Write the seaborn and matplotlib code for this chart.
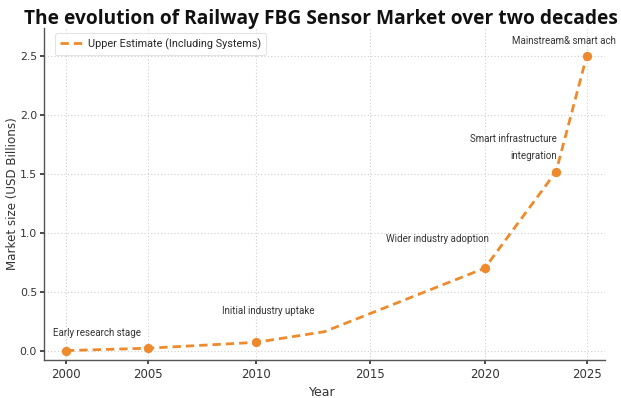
import numpy as np
import pandas as pd
import matplotlib
matplotlib.use("Agg")
import matplotlib.pyplot as plt
import seaborn as sns

# Market trajectory (upper estimate, including systems)
years = [2000, 2005, 2010, 2013, 2020, 2023.5, 2025]
market_usd_bn = [0.0, 0.02, 0.07, 0.16, 0.70, 1.52, 2.50]

# Milestones highlighted with markers and captions
milestone_years = [2000, 2005, 2010, 2020, 2023.5, 2025]
milestone_values = [0.0, 0.02, 0.07, 0.70, 1.52, 2.50]
stage_labels = ["Early research stage", "Initial industry uptake",
                "Wider industry adoption", "Smart infrastructure\nintegration",
                "Mainstream& smart ach"]
stage_years = [2000, 2010, 2020, 2023.5, 2025]
stage_values = [0.0, 0.07, 0.70, 1.52, 2.50]

x_ticks = [2000, 2005, 2010, 2015, 2020, 2025]
y_ticks = [0.0, 0.5, 1.0, 1.5, 2.0, 2.5]

series_name = "Upper Estimate (Including Systems)"
orange = "#EF8A2C"

# piecewise axis spacing for the year axis
_knots_year = np.array([1990, 2000, 2005, 2010, 2015, 2020, 2025, 2035], float)
_knots_pos = np.array([-98, 66, 148, 256, 370, 485, 587, 791], float)


def _fwd(v):
    return np.interp(v, _knots_year, _knots_pos)


def _inv(p):
    return np.interp(p, _knots_pos, _knots_year)


sns.set_theme(style="whitegrid")
plt.rcParams["font.family"] = ["DejaVu Sans"]

df = pd.DataFrame({"Year": years, "Market": market_usd_bn})

fig = plt.figure(figsize=(6.21, 3.98), dpi=100)
ax = fig.add_axes([44 / 621, 1 - 360 / 398, (605 - 44) / 621, (360 - 28) / 398])
ax.set_xscale("function", functions=(_fwd, _inv))

sns.lineplot(data=df, x="Year", y="Market", ax=ax, color=orange,
             linestyle=(0, (3, 1.8)), linewidth=2.0, label=series_name)
sns.scatterplot(x=milestone_years, y=milestone_values, ax=ax, color=orange,
                s=45, edgecolor=orange, linewidth=0, zorder=3)

ax.set_xlim(1998.66, 2025.9)
ax.set_ylim(-0.08, 2.74)
ax.set_xticks(x_ticks)
ax.set_xticklabels([str(t) for t in x_ticks])
ax.xaxis.set_minor_locator(matplotlib.ticker.NullLocator())
ax.set_yticks(y_ticks)
ax.set_yticklabels([f"{t:.1f}" for t in y_ticks])
ax.tick_params(axis="x", labelsize=8.5, colors="#333333", length=3,
               bottom=True, pad=2.5)
ax.tick_params(axis="y", labelsize=7.8, colors="#333333", length=3,
               left=True, pad=2)

ax.set_facecolor("white")
ax.grid(True, linestyle=(0, (1, 2)), color="#d0d0d0", linewidth=0.8)
for side in ("top", "right"):
    ax.spines[side].set_visible(False)
for side in ("left", "bottom"):
    ax.spines[side].set_color("#555555")
    ax.spines[side].set_linewidth(1.0)

ax.set_xlabel("Year", fontsize=9, color="#333333")
ax.xaxis.set_label_coords(0.496, -0.077)
ax.set_ylabel("Market size (USD Billions)", fontsize=8.6, color="#333333")
ax.yaxis.set_label_coords(-0.044, 0.5)

# stage captions
caption_font = dict(fontsize=7, color="#333333", family=["Roboto", "DejaVu Sans"])
offsets = [(31, 18), (12, 31), (-47, 29), (1, 24), (-23, 15)]
aligns = ["center", "center", "center", "right", "center"]
for lab, yx, yv, off, ha in zip(stage_labels, stage_years, stage_values, offsets, aligns):
    ax.annotate(lab, (yx, yv), xytext=off, textcoords="offset pixels",
                ha=ha, va="center", linespacing=1.9, **caption_font)

leg = ax.legend(loc="upper left", bbox_to_anchor=(0.01, 1.0),
                frameon=True, handlelength=2.0, borderpad=0.45,
                handletextpad=0.6,
                prop={"family": ["Roboto", "DejaVu Sans"], "size": 7.8})
leg.get_frame().set_edgecolor("#dddddd")
leg.get_frame().set_linewidth(0.8)

fig.text(0.517, 0.952, "The evolution of Railway FBG Sensor Market over two decades",
         ha="center", va="center", fontsize=13.8, fontweight="bold",
         family=["Open Sans", "DejaVu Sans"], color="#111111")

fig.savefig("out.png", dpi=100, facecolor="white")
